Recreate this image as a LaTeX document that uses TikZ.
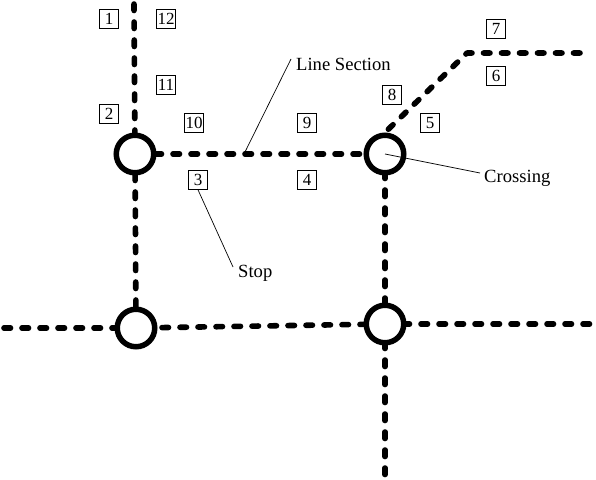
\documentclass[tikz,border=0pt]{standalone}
\usepackage{fontspec}
\setmainfont{Liberation Serif}
\usetikzlibrary{backgrounds}
\tikzset{
  stop/.style={circle,draw=black,fill=white,line width=5.5pt,minimum size=37.5pt,inner sep=0pt},
  track/.style={line width=5.6pt,line cap=round,line join=round,dash pattern=on 6.5pt off 11.5pt},
  numbox/.style={draw=black,fill=white,line width=0.6pt,minimum size=19pt,inner sep=0pt,font=\fontsize{17}{17}\selectfont},
  lab/.style={inner sep=0pt,font=\fontsize{18.6}{20}\selectfont},
  leader/.style={line width=0.7pt}
}
\begin{document}
\begin{tikzpicture}[x=1pt,y=-1pt]
\useasboundingbox (0,0) rectangle (596,479);
\node[stop] (A) at (135,154) {};
\node[stop] (B) at (385,154) {};
\node[stop] (C) at (136,328) {};
\node[stop] (D) at (385,324) {};
\coordinate (top) at (134,4);
\coordinate (left) at (4,328);
\coordinate (bend) at (467,53);
\coordinate (east) at (580,53);
\coordinate (right) at (590,324);
\coordinate (bottom) at (385,476);
\coordinate (sec) at (245,152);
\coordinate (secend) at (291,59);
\coordinate (crend) at (480,173);
\coordinate (stend) at (233,267);
\begin{pgfonlayer}{background}
\draw[track] (top) -- (A.center);
\draw[track,dash phase=16pt] (A.center) -- (C.center);
\draw[track,dash phase=16pt] (A.center) -- (B.center);
\draw[track] (left) -- (C.center);
\draw[track,dash phase=10pt] (C.center) -- (D.center);
\draw[track] (D.center) -- (right);
\draw[track] (B.center) -- (D.center);
\draw[track] (D.center) -- (bottom);
\draw[track] (east) -- (bend) -- (B.north);
\end{pgfonlayer}
\node[numbox] (n1) at (109,19) {1};
\node[numbox] (n12) at (166,19) {12};
\node[numbox] (n11) at (166,85) {11};
\node[numbox] (n2) at (109,114) {2};
\node[numbox] (n10) at (194,123) {10};
\node[numbox] (n3) at (198,180) {3};
\node[numbox] (n9) at (307,123) {9};
\node[numbox] (n4) at (307,180) {4};
\node[numbox] (n8) at (392,95) {8};
\node[numbox] (n5) at (430,123) {5};
\node[numbox] (n7) at (496,29) {7};
\node[numbox] (n6) at (496,76) {6};
\node[lab,anchor=west] (ls) at (296,64) {Line Section};
\node[lab,anchor=west] (cr) at (484,178) {Crossing};
\node[lab,anchor=west] (st) at (238,273) {Stop};
\draw[leader] (sec) -- (secend);
\draw[leader] (B.center) -- (crend);
\draw[leader] (n3.south) -- (stend);
\end{tikzpicture}
\end{document}
